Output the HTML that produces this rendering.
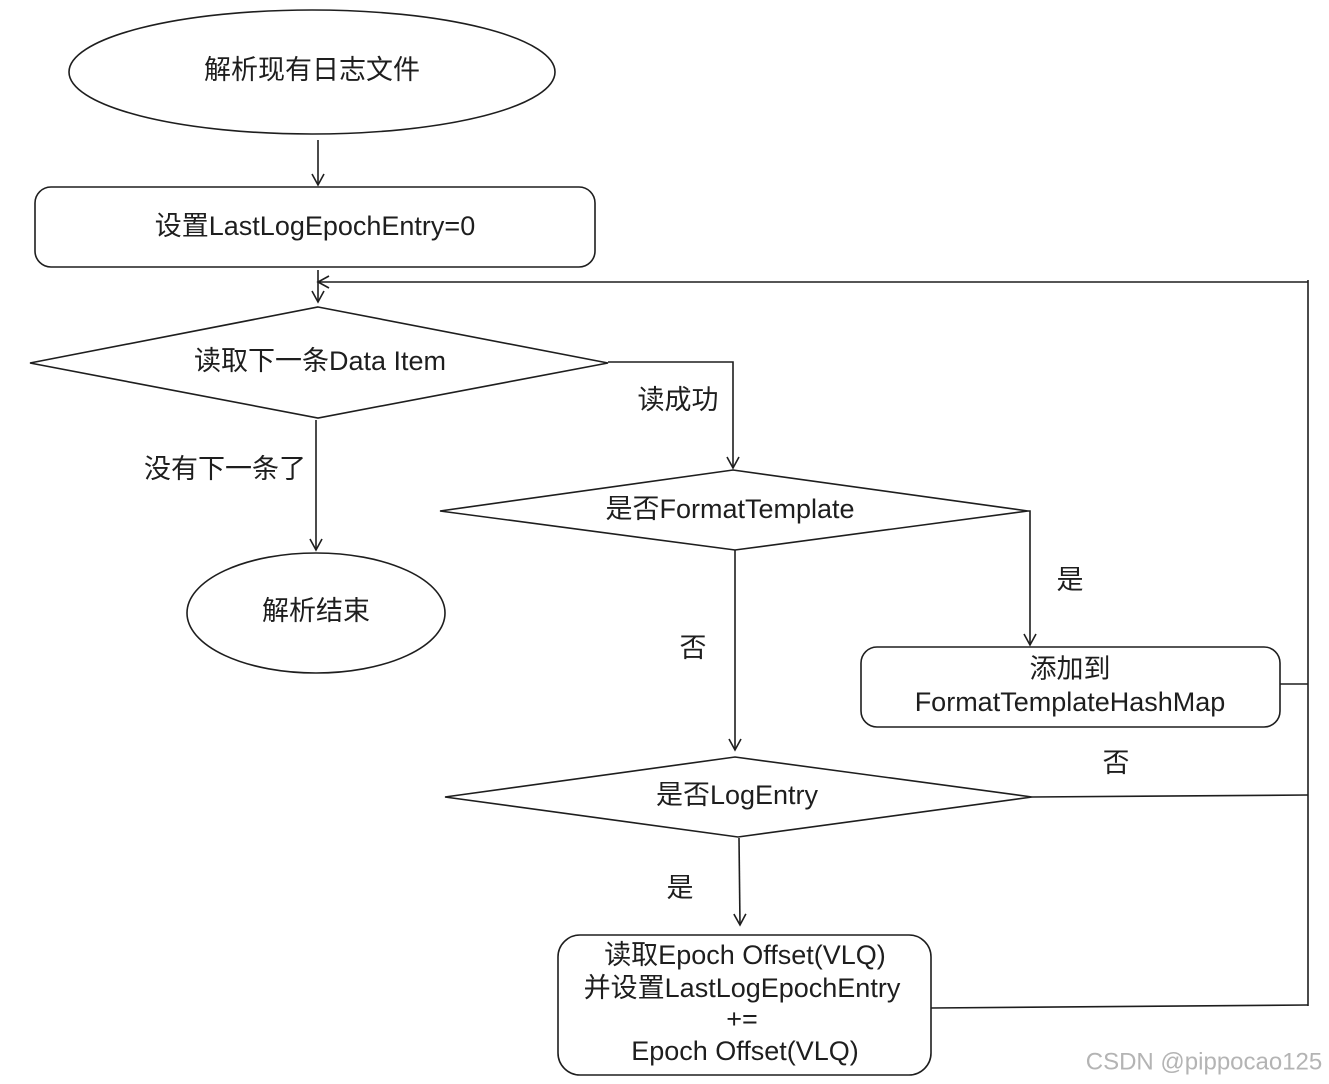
<!DOCTYPE html>
<html><head><meta charset="utf-8"><style>
html,body{margin:0;padding:0;background:#fff;}
svg{display:block;}
text{font-family:"Liberation Sans","Noto Sans CJK SC",sans-serif;font-size:27px;fill:#1e1e1e;text-anchor:middle;dominant-baseline:middle;}
</style></head><body>
<svg width="1329" height="1084" viewBox="0 0 1329 1084" xmlns="http://www.w3.org/2000/svg">
<defs><marker id="a" markerWidth="14" markerHeight="14" refX="12" refY="7" orient="auto" markerUnits="userSpaceOnUse"><path d="M1,1 L12,7 L1,13" fill="none" stroke="#1e1e1e" stroke-width="1.6"/></marker></defs>
<g fill="none" stroke="#1e1e1e" stroke-width="1.6">
<ellipse cx="312" cy="72" rx="243" ry="62"/>
<line x1="318" y1="140" x2="318" y2="185" marker-end="url(#a)"/>
<rect x="35" y="187" width="560" height="80" rx="16"/>
<line x1="318" y1="270" x2="318" y2="302" marker-end="url(#a)"/>
<polyline points="1308,280 1308,1006"/>
<line x1="1308" y1="282" x2="318" y2="282" marker-end="url(#a)"/>
<polygon points="318,307 608,363 318,418 30,363"/>
<polyline points="608,362 733,362 733,468" marker-end="url(#a)"/>
<line x1="316" y1="420" x2="316" y2="550" marker-end="url(#a)"/>
<ellipse cx="316" cy="613" rx="129" ry="60"/>
<polygon points="733,470 1028,511 735,550 440,511"/>
<polyline points="1028,511 1030,511 1030,645" marker-end="url(#a)"/>
<rect x="861" y="647" width="419" height="80" rx="16"/>
<line x1="1280" y1="684" x2="1308" y2="684"/>
<line x1="735" y1="550" x2="735" y2="750" marker-end="url(#a)"/>
<polygon points="735,757 1032,797 738,837 445,797"/>
<line x1="1032" y1="797" x2="1308" y2="795"/>
<line x1="739" y1="838" x2="740" y2="925" marker-end="url(#a)"/>
<rect x="558" y="935" width="373" height="140" rx="22"/>
<line x1="931" y1="1008" x2="1308" y2="1005"/>
</g>
<text x="312" y="72">解析现有日志文件</text>
<text x="315" y="228">设置LastLogEpochEntry=0</text>
<text x="320" y="363">读取下一条Data Item</text>
<text x="678" y="402">读成功</text>
<text x="225" y="471">没有下一条了</text>
<text x="316" y="613">解析结束</text>
<text x="730" y="511">是否FormatTemplate</text>
<text x="1070" y="582">是</text>
<text x="693" y="650">否</text>
<text x="1070" y="671">添加到</text>
<text x="1070" y="704">FormatTemplateHashMap</text>
<text x="737" y="797">是否LogEntry</text>
<text x="1116" y="765">否</text>
<text x="680" y="890">是</text>
<text x="745" y="957">读取Epoch Offset(VLQ)</text>
<text x="742" y="990">并设置LastLogEpochEntry</text>
<text x="742" y="1021">+=</text>
<text x="745" y="1053">Epoch Offset(VLQ)</text>
<text x="1204" y="1063" style="font-size:24px;fill:#b4b4b4">CSDN @pippocao125</text>
</svg>
</body></html>
